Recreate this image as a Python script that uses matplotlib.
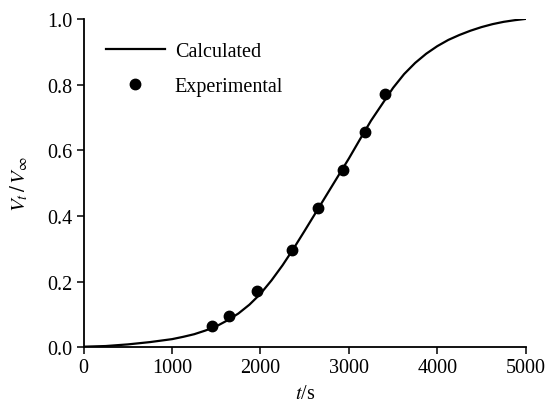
import matplotlib
matplotlib.use("Agg")
import matplotlib.pyplot as plt

plt.rcParams["font.family"] = ["Liberation Serif", "DejaVu Serif"]
plt.rcParams["mathtext.fontset"] = "stix"

# calculated transformation curve
t_calc = [0, 250, 500, 750, 1000, 1125, 1250, 1375, 1500, 1625, 1750,
          1875, 2000, 2125, 2250, 2375, 2500, 2750, 2875, 3000, 3125,
          3250, 3375, 3500, 3625, 3750, 3875, 4000, 4125, 4250, 4375,
          4500, 4625, 4750, 4875, 5000]
v_calc = [0.002, 0.004, 0.009, 0.016, 0.025, 0.032, 0.040, 0.051, 0.064,
          0.082, 0.103, 0.130, 0.163, 0.204, 0.250, 0.301, 0.355, 0.465,
          0.520, 0.575, 0.633, 0.690, 0.740, 0.790, 0.832, 0.866, 0.894,
          0.917, 0.936, 0.951, 0.964, 0.975, 0.984, 0.991, 0.996, 1.0]

# measured points
t_exp = [1448, 1640, 1964, 2353, 2647, 2933, 3186, 3410]
v_exp = [0.066, 0.094, 0.171, 0.295, 0.424, 0.540, 0.655, 0.772]

FS = 14.5

fig = plt.figure(figsize=(5.47, 4.06), dpi=100)
ax = fig.add_axes([0.153, 0.142, 0.808, 0.809])

ax.plot(t_calc, v_calc, color="black", lw=1.6, label="Calculated")
ax.plot(t_exp, v_exp, "o", color="black", ms=7.5, label="Experimental")

ax.set_xlim(0, 5000)
ax.set_ylim(0, 1.0)
ax.set_xticks([0, 1000, 2000, 3000, 4000, 5000])
ax.set_yticks([0.0, 0.2, 0.4, 0.6, 0.8, 1.0])
ax.set_yticklabels(["0.0", "0.2", "0.4", "0.6", "0.8", "1.0"])

for side in ("top", "right"):
    ax.spines[side].set_visible(False)
for side in ("left", "bottom"):
    ax.spines[side].set_linewidth(1.3)
ax.tick_params(direction="out", length=5, width=1.1, labelsize=FS, pad=3)

ax.set_xlabel(r"$t$/s", fontsize=FS, labelpad=5)
ax.set_ylabel(r"$V_t\,/\,V_\infty$", fontsize=FS + 0.5, labelpad=12)

ax.legend(loc="upper left", bbox_to_anchor=(0.01, 0.985), frameon=False,
          fontsize=FS, handlelength=2.9, handletextpad=0.5,
          labelspacing=0.8, numpoints=1)

fig.savefig("out.png", dpi=100)
